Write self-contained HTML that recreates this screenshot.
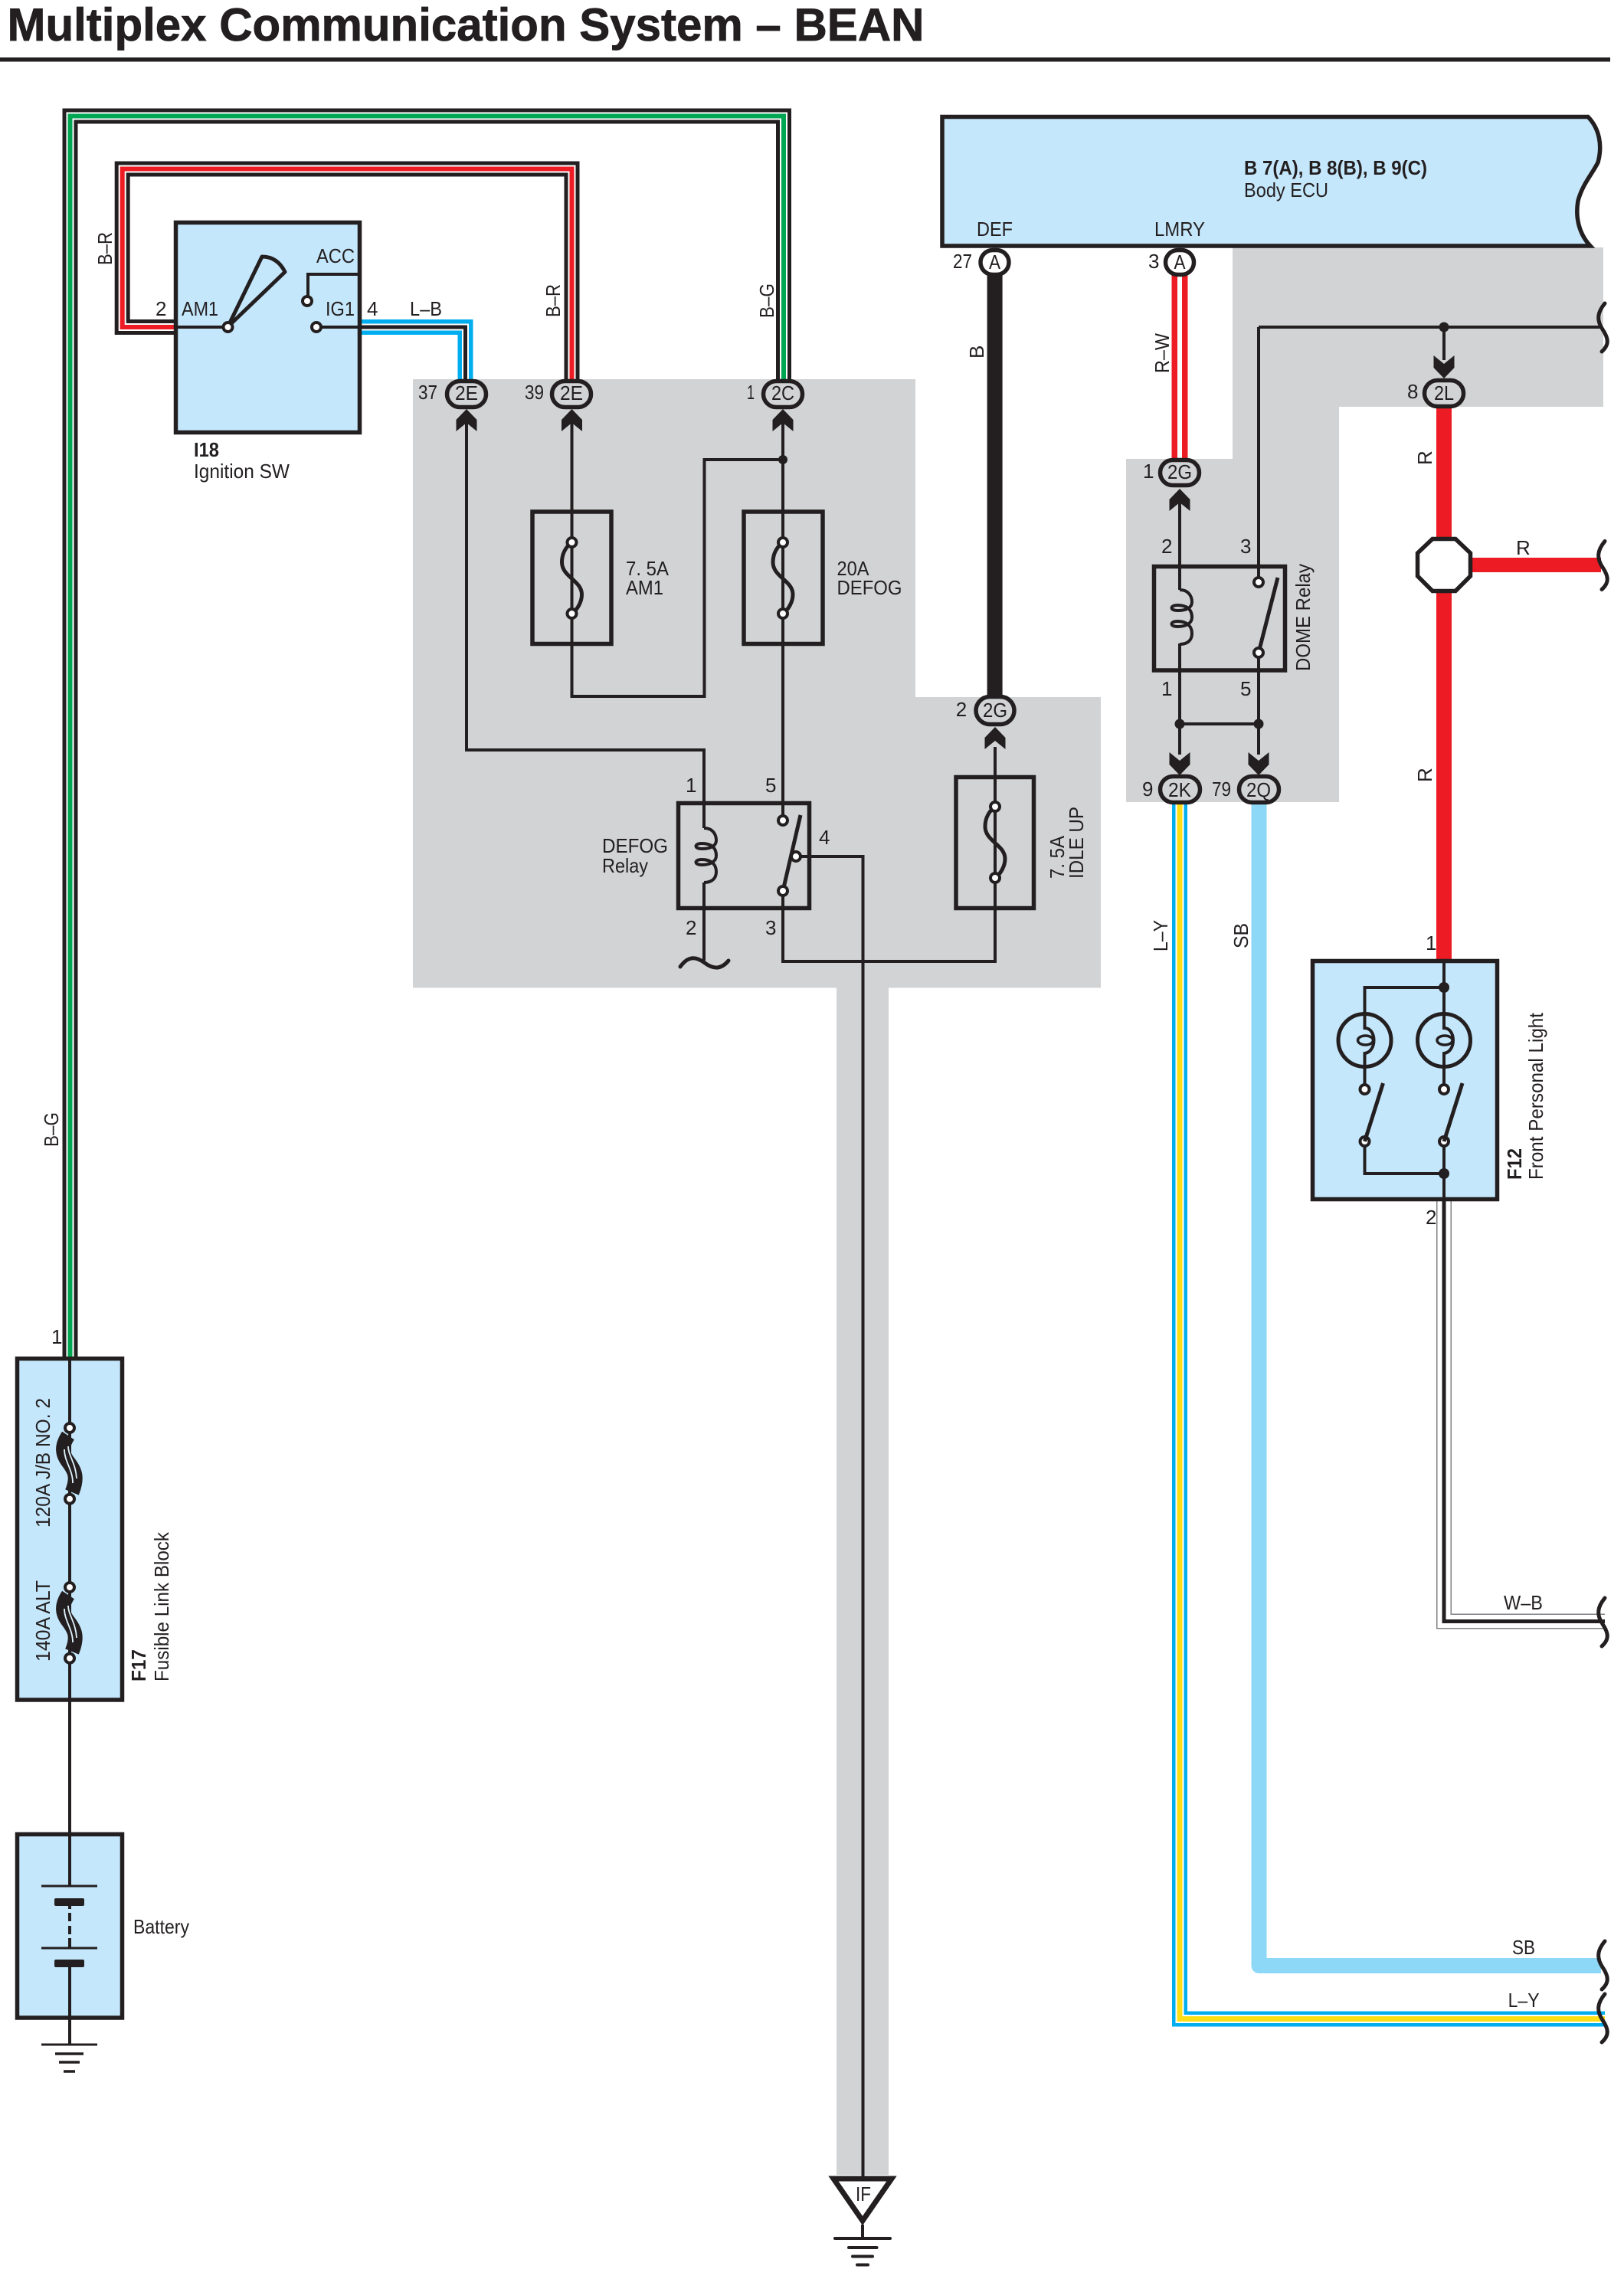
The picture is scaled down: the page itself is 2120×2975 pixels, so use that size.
<!DOCTYPE html>
<html lang="en">
<head>
<meta charset="utf-8">
<title>Multiplex Communication System – BEAN</title>
<style>
html,body{margin:0;padding:0;background:#fff;width:2120px;height:2975px;overflow:hidden}
svg{display:block}
text{font-family:"Liberation Sans",sans-serif;fill:#231f20;font-size:26px}
.b{font-weight:bold}
.w{fill:none;stroke-linejoin:miter;stroke-linecap:butt}
.k{fill:none;stroke:#231f20;stroke-width:4;stroke-linejoin:miter}
.box{stroke:#231f20;stroke-width:5.5;fill:none}
.con{fill:#d1d3d4;stroke:#231f20;stroke-width:5.5}
.dot{fill:#231f20}
.og{fill:#fff;stroke:#231f20;stroke-width:4}
.ob{fill:#fff;stroke:#231f20;stroke-width:4}
.sq{fill:none;stroke:#231f20;stroke-width:5;stroke-linecap:round}
</style>
</head>
<body>
<svg xmlns="http://www.w3.org/2000/svg" width="2120" height="2975" viewBox="0 0 2120 2975">
<defs>
<polygon id="au" points="0,0 13.5,14 13.5,29 0,18 -13.5,29 -13.5,14" fill="#231f20"/>
<polygon id="ad" points="0,0 13.5,-14 13.5,-30 0,-19 -13.5,-30 -13.5,-14" fill="#231f20"/>
<g id="fuse"><path d="M0 0 C-8 6 -13 15 -13 26 C-13 45 13 50 13 68 C13 78 7 88 0 93" fill="none" stroke="#231f20" stroke-width="5"/><circle cx="0" cy="0" r="6" class="og"/><circle cx="0" cy="93" r="6" class="og"/></g>
<path id="coil" d="M0 0 C12 0 16 9 16 16 C16 23 9 27 -3 27 C-13 27 -13 20 -3 20 C9 20 16 25 16 36 C16 43 9 48 -3 48 C-13 48 -13 41 -3 41 C9 41 16 47 16 57 C16 65 11 71 0 71" fill="none" stroke="#231f20" stroke-width="4"/>
<path id="sq" d="M2095 396 C2085 408 2084 418 2092 430 C2100 442 2101 450 2091 459" class="sq"/>
<g id="bulb"><circle cx="0" cy="0" r="34.5" fill="none" stroke="#231f20" stroke-width="5"/><path d="M0 -34 V-16 C8 -16 12 -8 12 0 C12 8 8 16 0 17 V64" fill="none" stroke="#231f20" stroke-width="4"/><ellipse cx="1" cy="0" rx="10" ry="6" fill="none" stroke="#231f20" stroke-width="3.5"/><circle cx="0" cy="64" r="6" class="ob"/><circle cx="0" cy="132" r="6" class="ob"/><line x1="0" y1="132" x2="24" y2="56" stroke="#231f20" stroke-width="5"/></g>
<g id="fl"><path d="M-2 10 C-10 22 -11 32 -3 43 C5 54 12 62 3 84" fill="none" stroke="#231f20" stroke-width="19"/><path d="M-2 24 C-2 36 8 46 9 66" fill="none" stroke="#dff2fc" stroke-width="1.8"/><path d="M-7 28 C-7 44 4 54 4 72" fill="none" stroke="#dff2fc" stroke-width="1.8"/><circle cx="0" cy="0" r="6" class="ob"/><circle cx="0" cy="92.7" r="6" class="ob"/></g>
</defs>

<text class="b" x="9.5" y="53" style="font-size:60px;stroke:#231f20;stroke-width:0.8" textLength="1197" lengthAdjust="spacingAndGlyphs">Multiplex Communication System – BEAN</text>
<rect x="0" y="75" width="2102" height="5.5" fill="#231f20"/>

<!-- gray zones -->
<path d="M539 495 H1195 V910 H1437 V1289.5 H1160 V2839 H1092 V1289.5 H539 Z" fill="#d1d3d4"/>
<path d="M1609 323 H2093 V531 H1748 V1047 H1470 V599 H1609 Z" fill="#d1d3d4"/>

<!-- B-G -->
<g class="w">
<polyline points="91.5,1771 91.5,151.5 1023,151.5 1023,495" stroke="#231f20" stroke-width="20"/>
<polyline points="91.5,1771 91.5,151.5 1023,151.5 1023,495" stroke="#fff" stroke-width="10"/>
<polyline points="91.5,1771 91.5,151.5 1023,151.5 1023,495" stroke="#00a651" stroke-width="6"/>
<!-- B-R -->
<polyline points="228,427 159.7,427 159.7,220.5 746.5,220.5 746.5,495" stroke="#231f20" stroke-width="20"/>
<polyline points="228,427 159.7,427 159.7,220.5 746.5,220.5 746.5,495" stroke="#fff" stroke-width="10"/>
<polyline points="228,427 159.7,427 159.7,220.5 746.5,220.5 746.5,495" stroke="#ed1c24" stroke-width="6"/>
<!-- L-B -->
<polyline points="472,427 607.5,427 607.5,495" stroke="#00aeef" stroke-width="20"/>
<polyline points="472,427 607.5,427 607.5,495" stroke="#fff" stroke-width="9"/>
<polyline points="472,427 607.5,427 607.5,495" stroke="#231f20" stroke-width="5"/>
<!-- B -->
<line x1="1298.6" y1="355" x2="1298.6" y2="910" stroke="#231f20" stroke-width="20"/>
<!-- R-W -->
<line x1="1540" y1="358" x2="1540" y2="600" stroke="#ed1c24" stroke-width="21"/>
<line x1="1540" y1="358" x2="1540" y2="600" stroke="#fff" stroke-width="6"/>
<!-- R -->
<line x1="1885" y1="530" x2="1885" y2="1254" stroke="#ed1c24" stroke-width="20"/>
<path d="M1920 737.5 H2090" stroke="#ed1c24" stroke-width="19"/>
<!-- L-Y -->
<polyline points="1540,1048 1540,2635.5 2095,2635.5" stroke="#00aeef" stroke-width="20"/>
<polyline points="1540,1048 1540,2635.5 2095,2635.5" stroke="#fff" stroke-width="11"/>
<polyline points="1540,1048 1540,2635.5 2095,2635.5" stroke="#ffde17" stroke-width="7"/>
<!-- SB -->
<polyline points="1643.5,1048 1643.5,2566 2090,2566" stroke="#8dd7f7" stroke-width="20" stroke-linejoin="round"/>
<!-- W-B -->
<polyline points="1885,1568 1885,2116.5 2095,2116.5" stroke="#808285" stroke-width="20"/>
<polyline points="1885,1568 1885,2116.5 2095,2116.5" stroke="#fff" stroke-width="17"/>
<polyline points="1885,1568 1885,2116.5 2095,2116.5" stroke="#231f20" stroke-width="5"/>
</g>

<!-- squiggles -->
<use href="#sq"/>
<use href="#sq" y="310.5"/>
<use href="#sq" y="1690"/>
<use href="#sq" y="2138"/>
<use href="#sq" y="2207"/>

<!-- I18 Ignition switch -->
<rect x="229.5" y="290.5" width="240" height="274" class="box" style="fill:#c5e7fb"/>
<path d="M229.5 427 H297 M469.5 427 H413 M469.5 358 H402 V393" class="k"/>
<path d="M297.5 426.5 L342 335 Q362 335 372 355 Z" fill="none" stroke="#231f20" stroke-width="5" stroke-linejoin="round"/>
<circle cx="297.5" cy="427" r="6" class="ob"/>
<circle cx="401" cy="393" r="6" class="ob"/>
<circle cx="413" cy="427" r="6" class="ob"/>

<!-- Gray zone wiring -->
<path d="M609 540 V979 H919 V1081 M919 1152 V1254" class="k"/>
<path d="M746.5 540 V909 H919.5 V600 H1022" class="k"/>
<path d="M1022 540 V1071 M1022 1163 V1255 H1299 V975 M1039 1118 H1126.5 V2842" class="k"/>
<use href="#coil" x="919" y="1081"/>
<path d="M888 1262 C898 1248 908 1248 920 1257 C932 1266 942 1265 951 1254" fill="none" stroke="#231f20" stroke-width="5" stroke-linecap="round"/>
<circle cx="1022" cy="600" r="6" class="dot"/>

<rect x="695" y="668" width="103" height="172.5" class="box"/>
<rect x="971" y="668" width="103" height="172.5" class="box"/>
<rect x="1248" y="1014.5" width="101.5" height="171" class="box"/>
<rect x="885.5" y="1048.5" width="171" height="137" class="box"/>
<use href="#fuse" x="746.5" y="708"/>
<use href="#fuse" x="1022" y="708"/>
<use href="#fuse" x="1299" y="1053"/>
<line x1="1022" y1="1163" x2="1045" y2="1064" stroke="#231f20" stroke-width="5"/>
<circle cx="1022" cy="1071" r="6" class="og"/>
<circle cx="1022" cy="1163" r="6" class="og"/>
<circle cx="1039" cy="1118" r="6" class="og"/>

<!-- connectors gray left -->
<use href="#au" x="609" y="534"/>
<use href="#au" x="746.5" y="534"/>
<use href="#au" x="1022" y="534"/>
<use href="#au" x="1299" y="949"/>
<rect x="583.5" y="497.5" width="51" height="34" rx="17" class="con"/>
<rect x="720.5" y="497.5" width="51" height="34" rx="17" class="con"/>
<rect x="996.5" y="497.5" width="51" height="34" rx="17" class="con"/>
<rect x="1274" y="909.5" width="50" height="36" rx="18" class="con"/>

<!-- Body ECU -->
<path d="M1230 152.5 H2073 C2088 168 2092 190 2086 212 C2078 228 2066 240 2060 262 C2056 285 2062 306 2076 321 H1230 Z" stroke="#231f20" stroke-width="5.5" fill="#c5e7fb"/>
<rect x="1280" y="326.5" width="37" height="32" rx="16" fill="#fff" stroke="#231f20" stroke-width="5.5"/>
<rect x="1521.5" y="326.5" width="37" height="32" rx="16" fill="#fff" stroke="#231f20" stroke-width="5.5"/>

<!-- Dome area -->
<path d="M1540 640 V770 M1540 840 V985 M1643 427 V760 M1643 852 V985 M1540 945 H1643 M1643 427 H2090 M1885 427 V470" class="k"/>
<circle cx="1885" cy="427" r="6.5" class="dot"/>
<use href="#ad" x="1885" y="494"/>
<rect x="1859.5" y="496.5" width="51" height="34" rx="17" class="con"/>
<use href="#au" x="1540" y="638"/>
<rect x="1514.5" y="600.5" width="51" height="33" rx="16.5" class="con"/>
<rect x="1506.5" y="739.5" width="171" height="135.5" class="box"/>
<use href="#coil" x="1540" y="770"/>
<line x1="1643" y1="852" x2="1668" y2="754" stroke="#231f20" stroke-width="5"/>
<circle cx="1643" cy="760" r="6" class="og"/>
<circle cx="1643" cy="852" r="6" class="og"/>
<circle cx="1540" cy="945" r="6.5" class="dot"/>
<circle cx="1643" cy="945" r="6.5" class="dot"/>
<use href="#ad" x="1540" y="1012"/>
<use href="#ad" x="1643" y="1012"/>
<rect x="1514.5" y="1013.5" width="52" height="34" rx="17" class="con"/>
<rect x="1617.5" y="1013.5" width="52" height="34" rx="17" class="con"/>

<!-- Octagon -->
<polygon points="1870,703.5 1900,703.5 1919.5,722 1919.5,752 1900,771.5 1870,771.5 1850.5,752 1850.5,722" fill="#fff" stroke="#231f20" stroke-width="5.5"/>

<!-- F12 -->
<rect x="1713.5" y="1254.5" width="241" height="311" class="box" style="fill:#c5e7fb"/>
<path d="M1885 1254 V1323 M1885 1289 H1781.5 V1323 M1781.5 1490 V1532 H1885 M1885 1490 V1568" class="k"/>
<use href="#bulb" x="1781.5" y="1358"/>
<use href="#bulb" x="1885" y="1358"/>
<circle cx="1885" cy="1289" r="7" class="dot"/>
<circle cx="1885" cy="1532" r="7" class="dot"/>

<!-- F17 -->
<rect x="22.5" y="1773.5" width="137" height="445.5" class="box" style="fill:#c5e7fb"/>
<line x1="91" y1="1773" x2="91" y2="2394" stroke="#231f20" stroke-width="4"/>
<use href="#fl" x="91" y="1864"/>
<use href="#fl" x="91" y="2072"/>

<!-- Battery -->
<rect x="22.5" y="2394.5" width="137" height="239.5" class="box" style="fill:#c5e7fb"/>
<path d="M91 2394 V2462 M91 2483 V2492 M91 2497 V2508 M91 2514 V2525 M91 2530 V2543 M91 2563 V2669" stroke="#231f20" stroke-width="4" fill="none"/>
<path d="M54 2462 H127 M54 2543 H127 M54 2669 H127" stroke="#231f20" stroke-width="3" fill="none"/>
<rect x="71" y="2478" width="39" height="10" rx="2" fill="#231f20"/>
<rect x="71" y="2558" width="39" height="10" rx="2" fill="#231f20"/>
<path d="M72 2681 H109 M77 2692 H104 M83 2704 H98" stroke="#231f20" stroke-width="3.5" fill="none"/>

<!-- IF -->
<polygon points="1088,2844 1164,2844 1126,2899" fill="#fff" stroke="#231f20" stroke-width="7" stroke-linejoin="miter"/>
<path d="M1126 2904 V2922" stroke="#231f20" stroke-width="4" fill="none"/>
<path d="M1090 2922 H1162 M1108 2934 H1144.5 M1113 2945.5 H1139 M1119 2956.5 H1133" stroke="#231f20" stroke-width="4" fill="none" stroke-linecap="round"/>

<!-- Labels -->
<text x="1117" y="2873" textLength="20" lengthAdjust="spacingAndGlyphs">IF</text>
<text x="203" y="412">2</text>
<text x="237" y="412" textLength="48" lengthAdjust="spacingAndGlyphs">AM1</text>
<text x="413" y="343" textLength="50" lengthAdjust="spacingAndGlyphs">ACC</text>
<text x="425" y="412" textLength="38" lengthAdjust="spacingAndGlyphs">IG1</text>
<text x="479" y="412">4</text>
<text x="535" y="412" textLength="42" lengthAdjust="spacingAndGlyphs">L–B</text>
<text class="b" x="253" y="596" textLength="33" lengthAdjust="spacingAndGlyphs">I18</text>
<text x="253" y="624" textLength="125" lengthAdjust="spacingAndGlyphs">Ignition SW</text>

<text x="546" y="521" textLength="25" lengthAdjust="spacingAndGlyphs">37</text>
<text x="685" y="521" textLength="25" lengthAdjust="spacingAndGlyphs">39</text>
<text x="975" y="521" textLength="10" lengthAdjust="spacingAndGlyphs">1</text>
<text x="594" y="522" textLength="30" lengthAdjust="spacingAndGlyphs">2E</text>
<text x="731" y="522" textLength="30" lengthAdjust="spacingAndGlyphs">2E</text>
<text x="1007" y="522" textLength="30" lengthAdjust="spacingAndGlyphs">2C</text>

<text x="817" y="751" textLength="56" lengthAdjust="spacingAndGlyphs">7. 5A</text>
<text x="817" y="776" textLength="49" lengthAdjust="spacingAndGlyphs">AM1</text>
<text x="1092.5" y="751" textLength="42" lengthAdjust="spacingAndGlyphs">20A</text>
<text x="1092.5" y="776" textLength="85" lengthAdjust="spacingAndGlyphs">DEFOG</text>
<text x="786" y="1113" textLength="86" lengthAdjust="spacingAndGlyphs">DEFOG</text>
<text x="786" y="1139" textLength="60" lengthAdjust="spacingAndGlyphs">Relay</text>
<text x="895" y="1034">1</text>
<text x="999" y="1034">5</text>
<text x="1069" y="1102">4</text>
<text x="895" y="1220">2</text>
<text x="999" y="1220">3</text>
<text transform="translate(1389,1147) rotate(-90)" textLength="56" lengthAdjust="spacingAndGlyphs">7. 5A</text>
<text transform="translate(1414,1147) rotate(-90)" textLength="94" lengthAdjust="spacingAndGlyphs">IDLE UP</text>
<text x="1255" y="935" text-anchor="middle">2</text>
<text x="1283" y="936" textLength="32" lengthAdjust="spacingAndGlyphs">2G</text>

<text class="b" x="1624" y="228" textLength="239" lengthAdjust="spacingAndGlyphs">B 7(A), B 8(B), B 9(C)</text>
<text x="1624" y="257" textLength="110" lengthAdjust="spacingAndGlyphs">Body ECU</text>
<text x="1275" y="308" textLength="47" lengthAdjust="spacingAndGlyphs">DEF</text>
<text x="1507" y="308" textLength="66" lengthAdjust="spacingAndGlyphs">LMRY</text>
<text x="1244" y="350" textLength="25" lengthAdjust="spacingAndGlyphs">27</text>
<text x="1499" y="350">3</text>
<text x="1291" y="351" textLength="15" lengthAdjust="spacingAndGlyphs">A</text>
<text x="1532.5" y="351" textLength="15" lengthAdjust="spacingAndGlyphs">A</text>
<text transform="translate(1284,468) rotate(-90)">B</text>
<text transform="translate(1526,487) rotate(-90)" textLength="52" lengthAdjust="spacingAndGlyphs">R–W</text>
<text x="1492" y="624">1</text>
<text x="1524" y="625" textLength="32" lengthAdjust="spacingAndGlyphs">2G</text>
<text x="1837" y="520">8</text>
<text x="1872" y="522" textLength="26" lengthAdjust="spacingAndGlyphs">2L</text>
<text transform="translate(1869,607) rotate(-90)">R</text>
<text x="1979" y="724">R</text>
<text transform="translate(1869,1021) rotate(-90)">R</text>
<text x="1516" y="722">2</text>
<text x="1619" y="722">3</text>
<text x="1516" y="908">1</text>
<text x="1619" y="908">5</text>
<text transform="translate(1710,876) rotate(-90)" textLength="140" lengthAdjust="spacingAndGlyphs">DOME Relay</text>
<text x="1491" y="1039">9</text>
<text x="1582" y="1039" textLength="25" lengthAdjust="spacingAndGlyphs">79</text>
<text x="1525" y="1040" textLength="30" lengthAdjust="spacingAndGlyphs">2K</text>
<text x="1627" y="1040" textLength="32" lengthAdjust="spacingAndGlyphs">2Q</text>
<text transform="translate(1524,1242) rotate(-90)" textLength="41" lengthAdjust="spacingAndGlyphs">L–Y</text>
<text transform="translate(1629,1238) rotate(-90)" textLength="33" lengthAdjust="spacingAndGlyphs">SB</text>
<text x="1861" y="1240">1</text>
<text x="1861" y="1598">2</text>
<text class="b" transform="translate(1986,1540) rotate(-90)" textLength="41" lengthAdjust="spacingAndGlyphs">F12</text>
<text transform="translate(2014,1540) rotate(-90)" textLength="218" lengthAdjust="spacingAndGlyphs">Front Personal Light</text>
<text x="1963" y="2101" textLength="51" lengthAdjust="spacingAndGlyphs">W–B</text>
<text x="1974" y="2551" textLength="30" lengthAdjust="spacingAndGlyphs">SB</text>
<text x="1968.6" y="2620" textLength="41" lengthAdjust="spacingAndGlyphs">L–Y</text>

<text transform="translate(146,346) rotate(-90)" textLength="43" lengthAdjust="spacingAndGlyphs">B–R</text>
<text transform="translate(731,414) rotate(-90)" textLength="43" lengthAdjust="spacingAndGlyphs">B–R</text>
<text transform="translate(1010,415) rotate(-90)" textLength="45" lengthAdjust="spacingAndGlyphs">B–G</text>
<text transform="translate(76,1497) rotate(-90)" textLength="45" lengthAdjust="spacingAndGlyphs">B–G</text>
<text x="67" y="1754">1</text>
<text transform="translate(65,1994) rotate(-90)" textLength="169" lengthAdjust="spacingAndGlyphs">120A J/B NO. 2</text>
<text transform="translate(65,2169) rotate(-90)" textLength="106" lengthAdjust="spacingAndGlyphs">140A ALT</text>
<text class="b" transform="translate(190,2195) rotate(-90)" textLength="42" lengthAdjust="spacingAndGlyphs">F17</text>
<text transform="translate(220,2195) rotate(-90)" textLength="195" lengthAdjust="spacingAndGlyphs">Fusible Link Block</text>
<text x="174" y="2524" textLength="73" lengthAdjust="spacingAndGlyphs">Battery</text>
</svg>
</body>
</html>
